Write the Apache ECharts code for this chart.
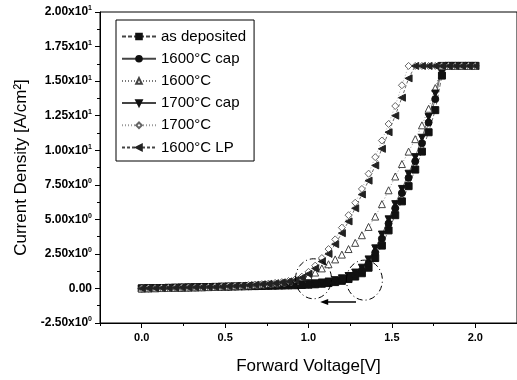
<!DOCTYPE html>
<html>
<head>
<meta charset="utf-8">
<script src="https://cdn.jsdelivr.net/npm/echarts@6/dist/echarts.min.js"></script>
<style>
html, body { margin: 0; padding: 0; background: #fff; }
#main { width: 517px; height: 380px; }
</style>
</head>
<body>
<div id="main"></div>
<script>
// forward voltage sweep [V]
var voltage = [0.00, 0.04, 0.08, 0.12, 0.16, 0.20, 0.24, 0.28, 0.32, 0.36,
  0.40, 0.44, 0.48, 0.52, 0.56, 0.60, 0.64, 0.68, 0.72, 0.76,
  0.80, 0.84, 0.88, 0.92, 0.96, 1.00, 1.04, 1.08, 1.12, 1.16,
  1.20, 1.24, 1.28, 1.32, 1.36, 1.40, 1.44, 1.48, 1.52, 1.56,
  1.60, 1.64, 1.68, 1.72, 1.76, 1.80, 1.84, 1.88, 1.92, 1.96, 2.00];

// current density [A/cm2]
var asDeposited = [0.00, 0.01, 0.02, 0.03, 0.04, 0.05, 0.06, 0.07, 0.08, 0.09,
  0.10, 0.11, 0.12, 0.13, 0.14, 0.15, 0.16, 0.17, 0.18, 0.19,
  0.20, 0.21, 0.22, 0.23, 0.25, 0.27, 0.30, 0.34, 0.39, 0.46,
  0.55, 0.68, 0.86, 1.10, 1.50, 2.20, 3.10, 4.20, 5.30, 6.30,
  7.40, 8.60, 9.90, 11.3, 12.9, 15.4, 16.1, 16.1, 16.1, 16.1, 16.1];
var cap1600 = [0.00, 0.01, 0.02, 0.03, 0.04, 0.05, 0.06, 0.07, 0.08, 0.09,
  0.10, 0.11, 0.12, 0.13, 0.14, 0.15, 0.16, 0.17, 0.18, 0.19,
  0.20, 0.21, 0.23, 0.25, 0.27, 0.30, 0.33, 0.38, 0.44, 0.52,
  0.63, 0.78, 1.00, 1.30, 1.80, 2.60, 3.60, 4.70, 5.80, 6.90,
  8.00, 9.20, 10.5, 12.0, 13.7, 15.9, 16.1, 16.1, 16.1, 16.1, 16.1];
var plain1600 = [0.00, 0.01, 0.02, 0.03, 0.04, 0.05, 0.06, 0.07, 0.08, 0.09,
  0.10, 0.11, 0.13, 0.15, 0.17, 0.19, 0.22, 0.25, 0.28, 0.32,
  0.36, 0.41, 0.47, 0.55, 0.70, 0.90, 1.15, 1.45, 1.75, 2.10,
  2.45, 2.85, 3.30, 3.85, 4.45, 5.20, 6.10, 7.10, 8.10, 9.00,
  9.90, 10.8, 11.8, 13.0, 14.5, 16.1, 16.1, 16.1, 16.1, 16.1, 16.1];
var cap1700 = [0.00, 0.01, 0.02, 0.03, 0.04, 0.05, 0.06, 0.07, 0.08, 0.09,
  0.10, 0.11, 0.12, 0.13, 0.14, 0.15, 0.17, 0.19, 0.21, 0.23,
  0.24, 0.25, 0.26, 0.28, 0.30, 0.33, 0.37, 0.43, 0.50, 0.60,
  0.73, 0.90, 1.15, 1.50, 2.10, 2.90, 3.90, 5.00, 6.10, 7.20,
  8.30, 9.50, 10.9, 12.4, 14.1, 16.1, 16.1, 16.1, 16.1, 16.1, 16.1];
var plain1700 = [0.00, 0.01, 0.02, 0.03, 0.04, 0.05, 0.06, 0.07, 0.08, 0.09,
  0.10, 0.12, 0.14, 0.16, 0.18, 0.21, 0.24, 0.27, 0.31, 0.35,
  0.40, 0.46, 0.54, 0.65, 0.85, 1.20, 1.65, 2.20, 2.85, 3.55,
  4.40, 5.30, 6.20, 7.20, 8.30, 9.50, 10.7, 11.9, 13.2, 14.7,
  16.1, 16.1, 16.1, 16.1, 16.1, 16.1, 16.1, 16.1, 16.1, 16.1, 16.1];
var lp1600 = [0.00, 0.01, 0.02, 0.03, 0.04, 0.05, 0.06, 0.07, 0.08, 0.09,
  0.10, 0.11, 0.13, 0.15, 0.17, 0.20, 0.23, 0.26, 0.30, 0.34,
  0.38, 0.44, 0.51, 0.60, 0.78, 1.05, 1.45, 1.95, 2.50, 3.20,
  4.00, 4.85, 5.80, 6.80, 7.80, 8.90, 10.1, 11.3, 12.5, 13.8,
  15.2, 16.1, 16.1, 16.1, 16.1, 16.1, 16.1, 16.1, 16.1, 16.1, 16.1];

var seriesNames = ['as deposited', '1600°C cap', '1600°C', '1700°C cap', '1700°C', '1600°C LP'];

// tick labels
var xTickValues = [0, 0.5, 1.0, 1.5, 2.0];
var xTickText = ['0.0', '0.5', '1.0', '1.5', '2.0'];
var xMinorValues = [-0.25, 0, 0.25, 0.5, 0.75, 1.0, 1.25, 1.5, 1.75, 2.0, 2.25];
var yTickValues = [-2.5, 0, 2.5, 5, 7.5, 10, 12.5, 15, 17.5, 20];
var yTickText = ['-2.50x10', '0.00', '2.50x10', '5.00x10', '7.50x10', '1.00x10', '1.25x10', '1.50x10', '1.75x10', '2.00x10'];
var yTickExp = ['0', '', '0', '0', '0', '1', '1', '1', '1', '1'];

// dash-dot circles and arrow (data units)
var circleCenters = [[1.03, 0.7], [1.335, 0.6]];
var arrowFrom = [1.285, -0.98];
var arrowTo = [1.07, -0.98];

var FONT = '"Liberation Sans", Arial, sans-serif';

function pairs(vals) {
  return voltage.map(function (v, i) { return [v, vals[i]]; });
}

var mychart = echarts.init(document.getElementById('main'));

var styles = [
  { data: asDeposited, symbol: 'rect', rotate: 0, size: 7, fill: '#111', stroke: '#111', line: '#444', dash: [4, 2] },
  { data: cap1600, symbol: 'circle', rotate: 0, size: 7, fill: '#111', stroke: '#111', line: '#444', dash: 'solid' },
  { data: plain1600, symbol: 'triangle', rotate: 0, size: 7, fill: '#fff', stroke: '#444', line: '#777', dash: [1, 2] },
  { data: cap1700, symbol: 'triangle', rotate: 180, size: 7, fill: '#111', stroke: '#111', line: '#444', dash: 'solid' },
  { data: plain1700, symbol: 'diamond', rotate: 0, size: 7, fill: '#fff', stroke: '#666', line: '#999', dash: [1, 2] },
  { data: lp1600, symbol: 'triangle', rotate: 90, size: 7, fill: '#222', stroke: '#222', line: '#444', dash: [3, 2] }
];

var series = styles.map(function (s, k) {
  return {
    name: seriesNames[k],
    type: 'line',
    data: pairs(s.data),
    symbol: s.symbol,
    symbolRotate: s.rotate,
    symbolSize: s.size,
    showAllSymbol: true,
    animation: false,
    itemStyle: { color: s.fill, borderColor: s.stroke, borderWidth: 1 },
    lineStyle: { color: s.line, width: 0.8, type: s.dash }
  };
});

var option = {
  animation: false,
  backgroundColor: '#fff',
  grid: {
    left: 100, top: 12, width: 419, height: 311,
    show: true, borderColor: '#000', borderWidth: 1, backgroundColor: 'transparent'
  },
  legend: {
    orient: 'vertical',
    left: 116, top: 20,
    padding: [9, 8, 6, 5],
    itemWidth: 34, itemHeight: 7, itemGap: 7.2,
    borderColor: '#000', borderWidth: 1,
    backgroundColor: '#fff',
    textStyle: { fontFamily: FONT, fontSize: 15, color: '#000', lineHeight: 15 },
    data: seriesNames
  },
  xAxis: [{
    type: 'value',
    min: -0.25, max: 2.25,
    name: 'Forward Voltage[V]',
    nameLocation: 'middle',
    nameGap: 35,
    nameTextStyle: { fontFamily: FONT, fontSize: 17, color: '#000' },
    axisLine: { onZero: false, lineStyle: { color: '#000', width: 1 } },
    axisTick: { customValues: xTickValues, length: 5, lineStyle: { color: '#000' } },
    axisLabel: {
      customValues: xTickValues,
      margin: 9,
      fontFamily: FONT, fontSize: 11, fontWeight: 'bold', color: '#000',
      formatter: function (v) {
        var i = xTickValues.indexOf(Math.round(v * 100) / 100);
        return i >= 0 ? xTickText[i] : '';
      }
    },
    splitLine: { show: false }
  }, {
    type: 'value',
    min: -0.25, max: 2.25,
    position: 'bottom',
    axisLine: { show: false, onZero: false },
    axisTick: { customValues: xMinorValues, length: 3, lineStyle: { color: '#000' } },
    axisLabel: { show: false },
    splitLine: { show: false }
  }],
  yAxis: {
    type: 'value',
    min: -2.5, max: 20, interval: 2.5,
    name: 'Current Density [A/cm²]',
    nameLocation: 'middle',
    nameGap: 65,
    nameTextStyle: { fontFamily: FONT, fontSize: 17, color: '#000' },
    axisLine: { show: true, onZero: false, lineStyle: { color: '#000', width: 1 } },
    axisTick: { length: 5, lineStyle: { color: '#000' } },
    minorTick: { show: true, splitNumber: 2, length: 3, lineStyle: { color: '#000' } },
    axisLabel: {
      margin: 8,
      formatter: function (v) {
        var i = yTickValues.indexOf(Math.round(v * 100) / 100);
        if (i < 0) return '';
        return '{m|' + yTickText[i] + '}' + (yTickExp[i] ? '{e|' + yTickExp[i] + '}' : '');
      },
      rich: {
        m: { fontFamily: FONT, fontSize: 12, fontWeight: 'bold', color: '#000', lineHeight: 14 },
        e: { fontFamily: FONT, fontSize: 7, fontWeight: 'bold', color: '#000', verticalAlign: 'top', lineHeight: 8 }
      }
    },
    splitLine: { show: false }
  },
  series: series
};

mychart.setOption(option);

// annotations placed from data coordinates
function px(p) { return mychart.convertToPixel({ gridIndex: 0 }, p); }
var graphics = circleCenters.map(function (c) {
  var p = px(c);
  return {
    type: 'ellipse',
    shape: { cx: p[0], cy: p[1], rx: 18, ry: 20 },
    style: { fill: null, stroke: '#000', lineWidth: 1, lineDash: [6, 3, 1, 3] },
    z: 10
  };
});
var a0 = px(arrowFrom), a1 = px(arrowTo);
graphics.push({
  type: 'line',
  shape: { x1: a0[0], y1: a0[1], x2: a1[0] + 6, y2: a1[1] },
  style: { stroke: '#000', lineWidth: 1.5 },
  z: 10
});
graphics.push({
  type: 'polygon',
  shape: { points: [[a1[0], a1[1]], [a1[0] + 8, a1[1] - 3], [a1[0] + 8, a1[1] + 3]] },
  style: { fill: '#000' },
  z: 10
});
mychart.setOption({ graphic: graphics });
</script>
</body>
</html>
